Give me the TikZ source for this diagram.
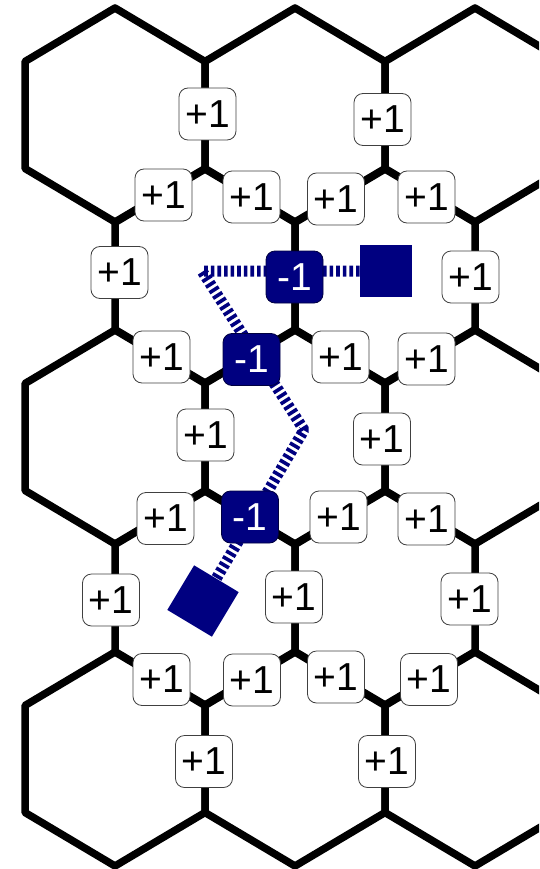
\documentclass[tikz,border=0pt]{standalone}
\usepackage{fontspec}
\setmainfont{Liberation Sans}
\definecolor{navyc}{RGB}{0,0,128}
\pgfdeclarelayer{bg}
\pgfsetlayers{bg,main}
\begin{document}
\begin{tikzpicture}[x=1pt,y=-1pt,
  hexline/.style={line width=7.5pt, line join=round},
  plusbox/.style={draw=black!75, line width=0.8pt, fill=white, rounded corners=9pt,
    minimum width=57pt, minimum height=52pt, inner sep=0pt,
    font=\fontsize{39}{39}\selectfont},
  minusbox/.style={plusbox, fill=navyc, text=white, draw=black!50!navyc},
  pathline/.style={draw=navyc, line width=11pt, line join=bevel, dash pattern=on 3.6pt off 3pt},
  blk/.style={fill=navyc, minimum size=52pt, inner sep=0pt}]
\useasboundingbox (0,0) rectangle (539,869);
% labels
\node[plusbox] (p1) at (207.5,114) {+1};
\node[plusbox] (p2) at (382.5,119.5) {+1};
\node[plusbox] (p3) at (163.5,195) {+1};
\node[plusbox] (p4) at (251.5,197) {+1};
\node[plusbox] (p5) at (336,199) {+1};
\node[plusbox] (p6) at (426.5,197) {+1};
\node[plusbox] (p7) at (119.5,272.5) {+1};
\node[minusbox] (n1) at (294.5,277) {-1};
\node[plusbox] (p8) at (470.5,277) {+1};
\node[plusbox] (p9) at (161.5,357) {+1};
\node[minusbox] (n2) at (251.5,359.5) {-1};
\node[plusbox] (p10) at (340.5,357) {+1};
\node[plusbox] (p11) at (426.5,359) {+1};
\node[plusbox] (p12) at (205.5,435) {+1};
\node[plusbox] (p13) at (382,439) {+1};
\node[plusbox] (p14) at (165.5,518.5) {+1};
\node[minusbox] (n3) at (250,517) {-1};
\node[plusbox] (p15) at (338.5,517) {+1};
\node[plusbox] (p16) at (426.5,519) {+1};
\node[plusbox] (p17) at (111,600) {+1};
\node[plusbox] (p18) at (294,597) {+1};
\node[plusbox] (p19) at (469.5,599) {+1};
\node[plusbox] (p20) at (161.5,679.5) {+1};
\node[plusbox] (p21) at (252,680) {+1};
\node[plusbox] (p22) at (336,677) {+1};
\node[plusbox] (p23) at (429,679.5) {+1};
\node[plusbox] (p24) at (204,761.5) {+1};
\node[plusbox] (p25) at (387,761.5) {+1};
\node[blk] (sq) at (386,271) {};
\node[blk, rotate=-31] (dia) at (203,601) {};
\coordinate (c1) at (202,271);
\coordinate (c2) at (304,430);
\begin{pgfonlayer}{bg}
  \begin{scope}
    \clip (0,0) rectangle (539,869);
    \foreach \cx/\cy in {115/115, 295/115, 475/115, 205/276, 385/276,
                         115/437, 295/437, 475/437, 205/598, 385/598,
                         115/759, 295/759, 475/759}
      \draw[hexline] ({\cx},{\cy-107}) -- ++(90,53.5) -- ++(0,107) -- ++(-90,53.5)
        -- ++(-90,-53.5) -- ++(0,-107) -- cycle;
  \end{scope}
  \draw[pathline] (sq.center) -- (c1) -- (c2) -- (dia.center);
\end{pgfonlayer}
\end{tikzpicture}
\end{document}
